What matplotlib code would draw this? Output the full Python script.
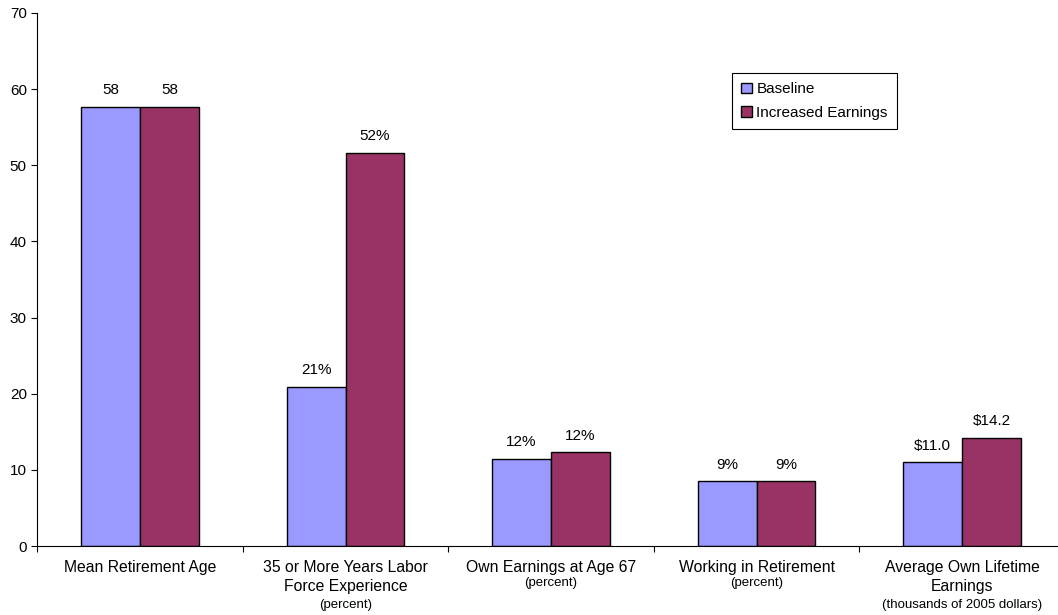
import numpy as np
import matplotlib.pyplot as plt
import matplotlib.transforms as mtransforms

plt.rcParams['font.family'] = ['Liberation Sans', 'DejaVu Sans']

# data
categories = ["Mean Retirement Age", "35 or More Years Labor\nForce Experience",
              "Own Earnings at Age 67", "Working in Retirement",
              "Average Own Lifetime\nEarnings"]
sublabels = ["", "(percent)", "(percent)", "(percent)", "(thousands of 2005 dollars)"]
baseline = [57.7, 20.9, 11.5, 8.5, 11.0]
increased = [57.7, 51.6, 12.3, 8.5, 14.2]
baseline_labels = ["58", "21%", "12%", "9%", "$11.0"]
increased_labels = ["58", "52%", "12%", "9%", "$14.2"]

fig = plt.figure(figsize=(10.58, 6.15), dpi=100)
ax = fig.add_axes([0.0352, 0.112, 0.9712, 0.867])

x = np.arange(len(categories))
w = 0.287
b1 = ax.bar(x - w / 2, baseline, w, color='#9999FF', edgecolor='black', linewidth=1, label='Baseline')
b2 = ax.bar(x + w / 2, increased, w, color='#993366', edgecolor='black', linewidth=1, label='Increased Earnings')

for bars, labs in [(b1, baseline_labels), (b2, increased_labels)]:
    for bar, lab in zip(bars, labs):
        ax.annotate(lab, (bar.get_x() + bar.get_width() / 2, bar.get_height()),
                    xytext=(0, 7), textcoords='offset points', ha='center', va='bottom', fontsize=11)

ax.set_xlim(-0.5, len(categories) - 0.5)
ax.set_ylim(0, 70)
ax.set_yticks(range(0, 71, 10))
ax.tick_params(axis='y', labelsize=11, length=4, direction='out')
ax.set_xticks(np.arange(-0.5, len(categories), 1.0))
ax.set_xticklabels([])
ax.tick_params(axis='x', length=4, direction='out')
ax.spines['top'].set_visible(False)
ax.spines['right'].set_visible(False)

trans = mtransforms.blended_transform_factory(ax.transData, ax.transAxes)
for i, (cat, sub) in enumerate(zip(categories, sublabels)):
    ax.text(i, -0.026, cat, transform=trans, ha='center', va='top', fontsize=11.3, linespacing=1.3)
    nlines = cat.count("\n") + 1
    if sub:
        ypos = -0.026 - 0.031 * nlines - (0.012 if nlines > 1 else 0)
        ax.text(i, ypos, sub, transform=trans, ha='center', va='top', fontsize=9.5)

leg = ax.legend(loc='upper left', bbox_to_anchor=(0.676, 0.887), fontsize=11, fancybox=False,
                edgecolor='black', handlelength=0.7, handleheight=0.7, handletextpad=0.3,
                borderpad=0.6, labelspacing=0.62, framealpha=1, borderaxespad=0)
leg.get_frame().set_linewidth(0.8)

fig.savefig('out.png', dpi=100)
